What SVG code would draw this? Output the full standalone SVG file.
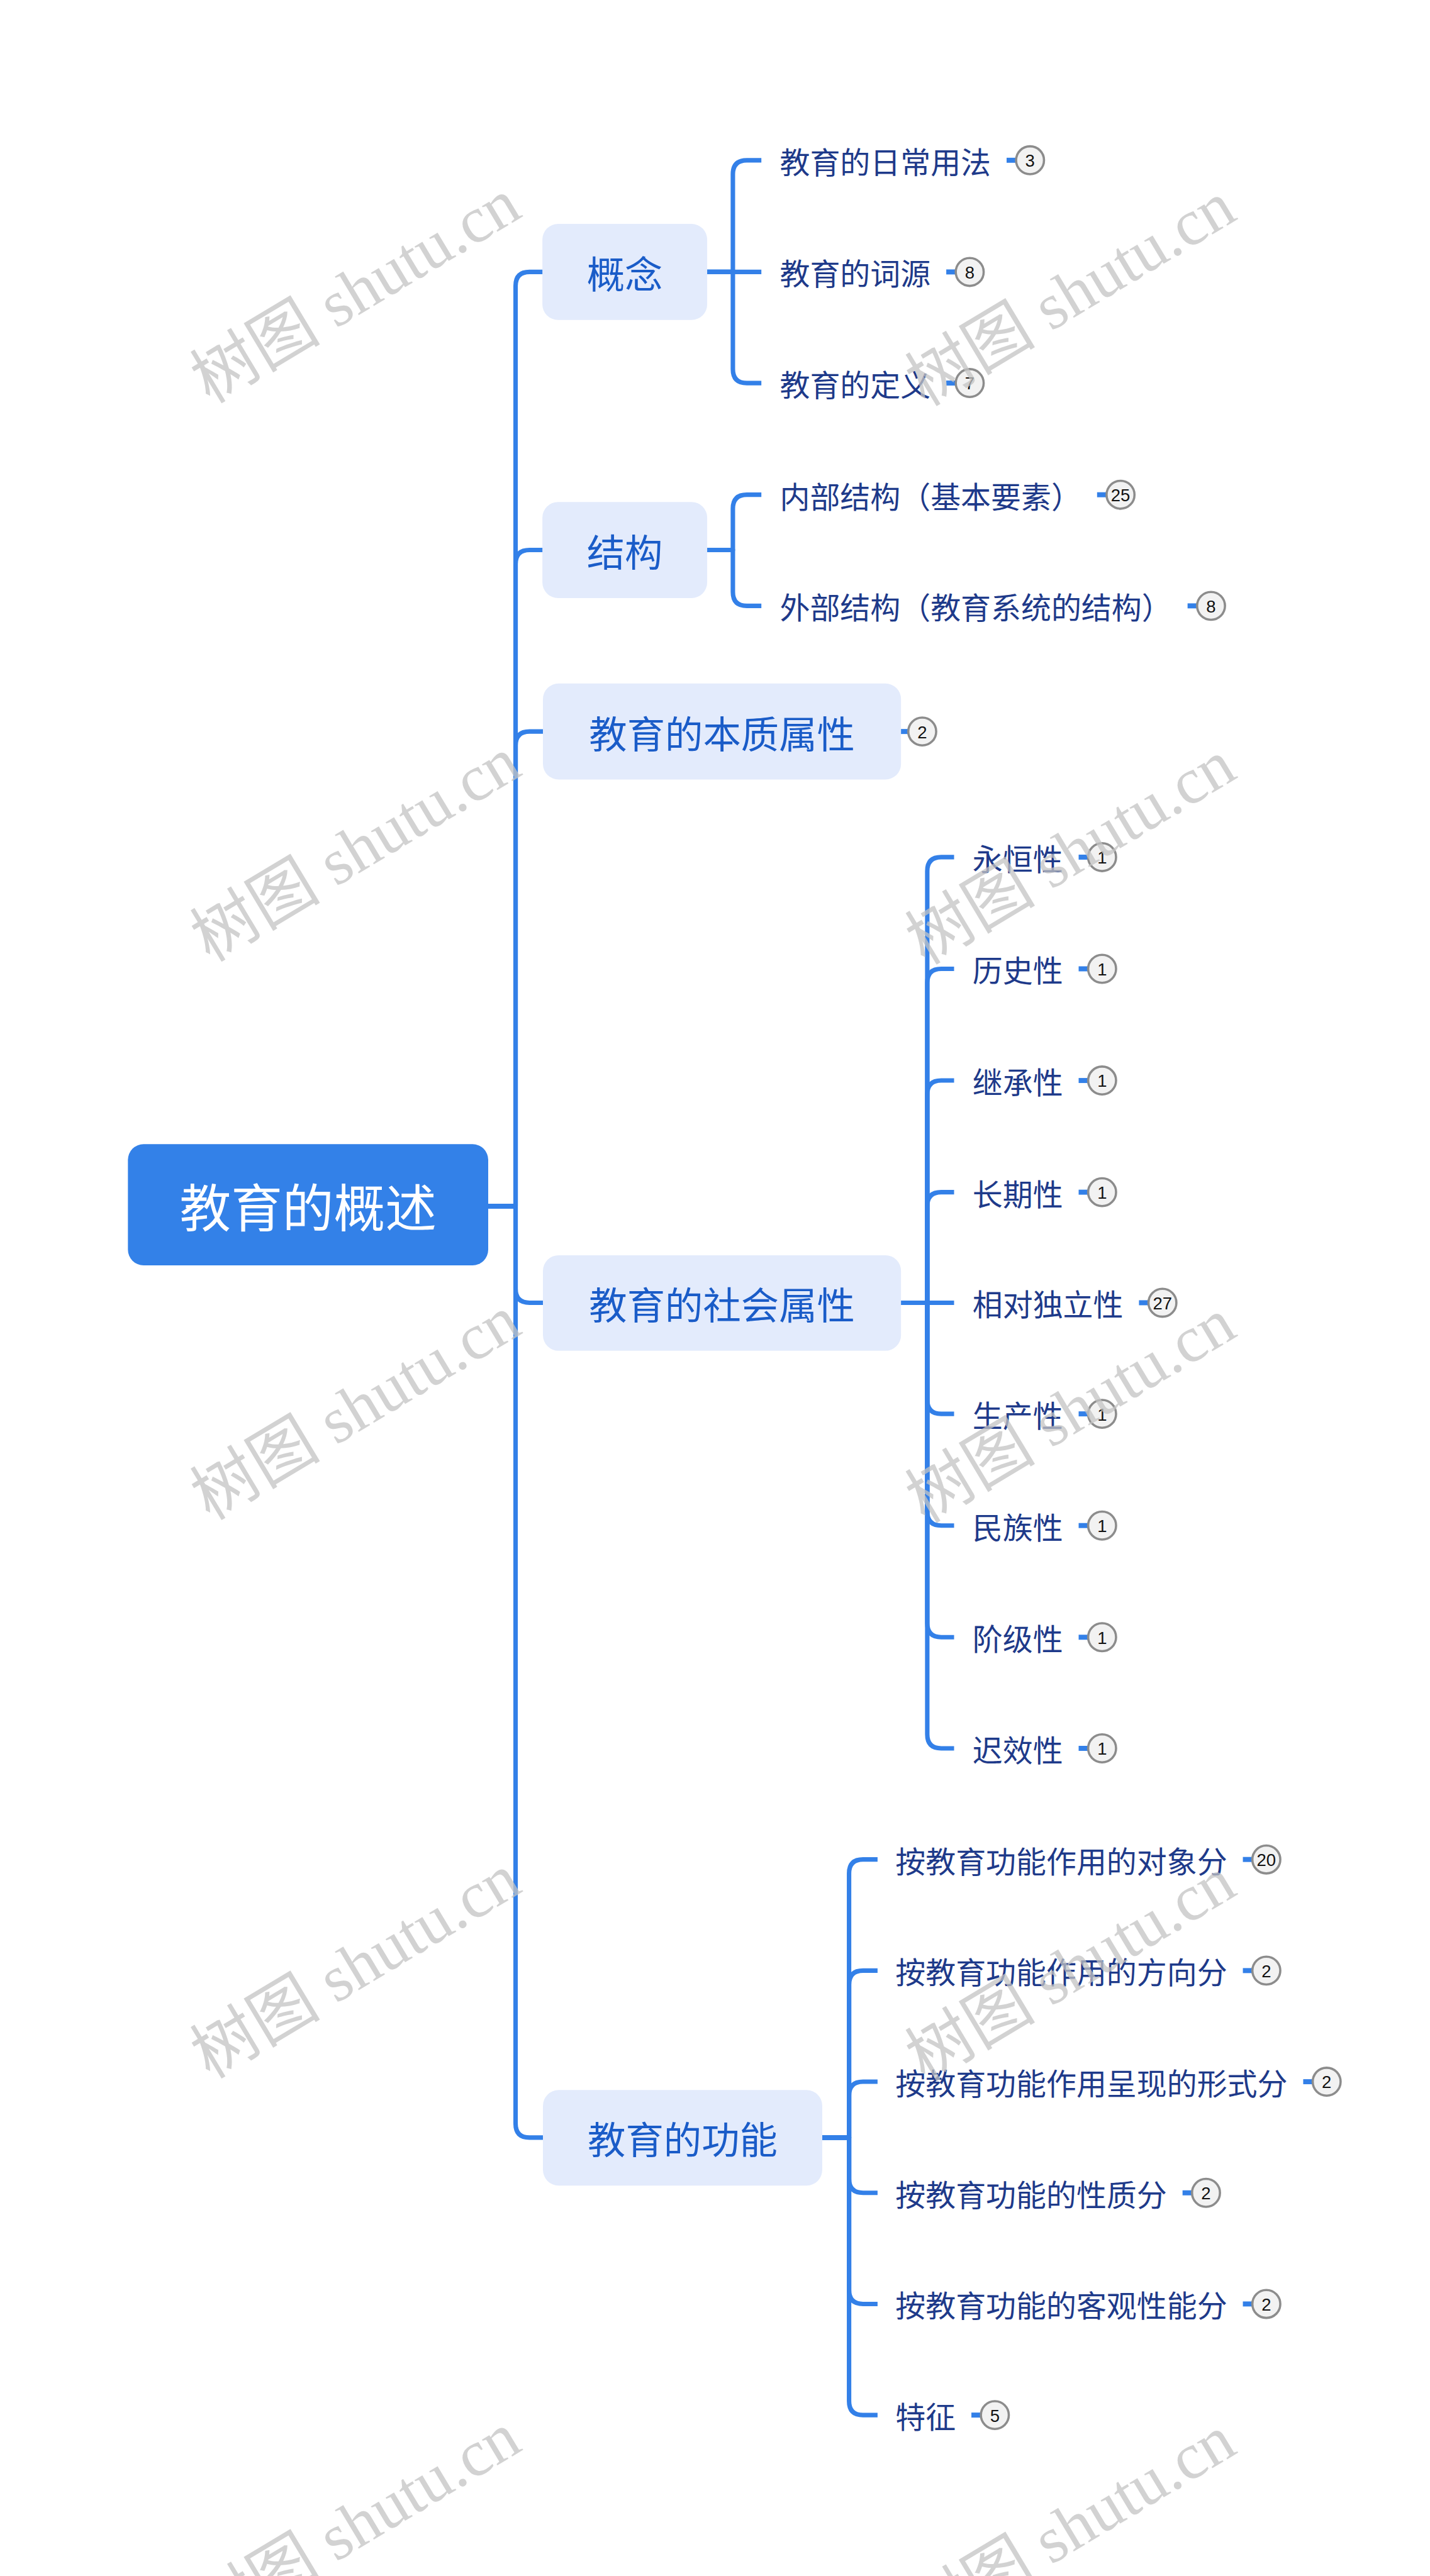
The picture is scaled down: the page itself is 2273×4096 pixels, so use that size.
<svg xmlns="http://www.w3.org/2000/svg" width="2273" height="4096" viewBox="0 0 2273 4096">
<style>
.bg{fill:#ffffff}
.root rect{fill:#3381E8}
.root text{fill:#ffffff;font-size:92px}
.l1 rect{fill:#E3EBFC}
.l1 text{fill:#1A5CC8;font-size:68px}
.leaf text{fill:#1E3A8A;font-size:54px}
text{font-family:"Noto Sans CJK SC","Noto Sans",sans-serif;dominant-baseline:central}
.c{fill:none;stroke:#3380E8;stroke-width:8;stroke-linecap:butt;stroke-linejoin:round}
.dash{stroke:#3380E8;stroke-width:9}
.badge circle{fill:#F2F2F2;stroke:#8C8C8C;stroke-width:4}
.badge text{fill:#111111;font-size:31px;font-family:"Liberation Sans","Noto Sans",sans-serif;text-anchor:middle}
.wm{fill:#c4c4c4;opacity:0.75;font-size:117px;font-family:"Liberation Serif","Noto Sans CJK SC",serif}
</style>
<rect class="bg" x="0" y="0" width="2273" height="4096"/>
<g transform="scale(0.88789)">
<g id="connectors">
<path class="c" d="M874 2160 H923 V512 Q923 487 948 487 H972"/>
<path class="c" d="M874 2160 H923 V1010 Q923 985 948 985 H972"/>
<path class="c" d="M874 2160 H923 V1335 Q923 1310 948 1310 H972"/>
<path class="c" d="M874 2160 H923 V2308 Q923 2333 948 2333 H972"/>
<path class="c" d="M874 2160 H923 V3803 Q923 3828 948 3828 H972"/>
<path class="c" d="M1266 487 H1312 V312 Q1312 287 1337 287 H1363"/>
<path class="c" d="M1266 487 H1363"/>
<path class="c" d="M1266 487 H1312 V661 Q1312 686 1337 686 H1363"/>
<path class="c" d="M1266 985 H1312 V911 Q1312 886 1337 886 H1363"/>
<path class="c" d="M1266 985 H1312 V1060 Q1312 1085 1337 1085 H1363"/>
<path class="c" d="M1613 2333 H1660 V1560 Q1660 1535 1685 1535 H1708"/>
<path class="c" d="M1613 2333 H1660 V1760 Q1660 1735 1685 1735 H1708"/>
<path class="c" d="M1613 2333 H1660 V1960 Q1660 1935 1685 1935 H1708"/>
<path class="c" d="M1613 2333 H1660 V2160 Q1660 2135 1685 2135 H1708"/>
<path class="c" d="M1613 2333 H1708"/>
<path class="c" d="M1613 2333 H1660 V2507 Q1660 2532 1685 2532 H1708"/>
<path class="c" d="M1613 2333 H1660 V2707 Q1660 2732 1685 2732 H1708"/>
<path class="c" d="M1613 2333 H1660 V2907 Q1660 2932 1685 2932 H1708"/>
<path class="c" d="M1613 2333 H1660 V3106 Q1660 3131 1685 3131 H1708"/>
<path class="c" d="M1472 3828 H1520 V3355 Q1520 3330 1545 3330 H1571"/>
<path class="c" d="M1472 3828 H1520 V3554 Q1520 3529 1545 3529 H1571"/>
<path class="c" d="M1472 3828 H1520 V3753 Q1520 3728 1545 3728 H1571"/>
<path class="c" d="M1472 3828 H1520 V3902 Q1520 3927 1545 3927 H1571"/>
<path class="c" d="M1472 3828 H1520 V4101 Q1520 4126 1545 4126 H1571"/>
<path class="c" d="M1472 3828 H1520 V4300 Q1520 4325 1545 4325 H1571"/>
</g>

<g id="root" class="root"><rect x="229" y="2049" width="645" height="217" rx="28"/><text x="551.5" y="2157" text-anchor="middle">教育的概述</text></g>

<g id="n-gainian" class="l1"><rect x="971" y="401" width="295" height="172" rx="28"/><text x="1118.5" y="487" text-anchor="middle">概念</text></g>
<g id="n-jiegou" class="l1"><rect x="971" y="899" width="295" height="172" rx="28"/><text x="1118.5" y="985" text-anchor="middle">结构</text></g>
<g id="n-benzhi" class="l1"><rect x="972" y="1224" width="641" height="172" rx="28"/><text x="1292.5" y="1310" text-anchor="middle">教育的本质属性</text>
<line class="dash" x1="1613" y1="1310" x2="1627" y2="1310"/><g class="badge"><circle cx="1651" cy="1310" r="25"/><text x="1651" y="1311">2</text></g></g>
<g id="n-shehui" class="l1"><rect x="972" y="2248" width="641" height="171" rx="28"/><text x="1292.5" y="2333" text-anchor="middle">教育的社会属性</text></g>
<g id="n-gongneng" class="l1"><rect x="972" y="3743" width="500" height="171" rx="28"/><text x="1222" y="3828" text-anchor="middle">教育的功能</text></g>

<g id="leaf-1" class="leaf"><text x="1396" y="287">教育的日常用法</text><line class="dash" x1="1802" y1="287" x2="1820" y2="287"/><g class="badge"><circle cx="1844" cy="287" r="25"/><text x="1844" y="288">3</text></g></g>
<g id="leaf-2" class="leaf"><text x="1396" y="487">教育的词源</text><line class="dash" x1="1694" y1="487" x2="1712" y2="487"/><g class="badge"><circle cx="1736" cy="487" r="25"/><text x="1736" y="488">8</text></g></g>
<g id="leaf-3" class="leaf"><text x="1396" y="686">教育的定义</text><line class="dash" x1="1694" y1="686" x2="1712" y2="686"/><g class="badge"><circle cx="1736" cy="686" r="25"/><text x="1736" y="687">7</text></g></g>
<g id="leaf-4" class="leaf"><text x="1396" y="886">内部结构（基本要素）</text><line class="dash" x1="1964" y1="886" x2="1982" y2="886"/><g class="badge"><circle cx="2006" cy="886" r="25"/><text x="2006" y="887">25</text></g></g>
<g id="leaf-5" class="leaf"><text x="1396" y="1085">外部结构（教育系统的结构）</text><line class="dash" x1="2126" y1="1085" x2="2144" y2="1085"/><g class="badge"><circle cx="2168" cy="1085" r="25"/><text x="2168" y="1086">8</text></g></g>

<g id="leaf-6" class="leaf"><text x="1741" y="1535">永恒性</text><line class="dash" x1="1931" y1="1535" x2="1949" y2="1535"/><g class="badge"><circle cx="1973" cy="1535" r="25"/><text x="1973" y="1536">1</text></g></g>
<g id="leaf-7" class="leaf"><text x="1741" y="1735">历史性</text><line class="dash" x1="1931" y1="1735" x2="1949" y2="1735"/><g class="badge"><circle cx="1973" cy="1735" r="25"/><text x="1973" y="1736">1</text></g></g>
<g id="leaf-8" class="leaf"><text x="1741" y="1935">继承性</text><line class="dash" x1="1931" y1="1935" x2="1949" y2="1935"/><g class="badge"><circle cx="1973" cy="1935" r="25"/><text x="1973" y="1936">1</text></g></g>
<g id="leaf-9" class="leaf"><text x="1741" y="2135">长期性</text><line class="dash" x1="1931" y1="2135" x2="1949" y2="2135"/><g class="badge"><circle cx="1973" cy="2135" r="25"/><text x="1973" y="2136">1</text></g></g>
<g id="leaf-10" class="leaf"><text x="1741" y="2333">相对独立性</text><line class="dash" x1="2039" y1="2333" x2="2057" y2="2333"/><g class="badge"><circle cx="2081" cy="2333" r="25"/><text x="2081" y="2334">27</text></g></g>
<g id="leaf-11" class="leaf"><text x="1741" y="2532">生产性</text><line class="dash" x1="1931" y1="2532" x2="1949" y2="2532"/><g class="badge"><circle cx="1973" cy="2532" r="25"/><text x="1973" y="2533">1</text></g></g>
<g id="leaf-12" class="leaf"><text x="1741" y="2732">民族性</text><line class="dash" x1="1931" y1="2732" x2="1949" y2="2732"/><g class="badge"><circle cx="1973" cy="2732" r="25"/><text x="1973" y="2733">1</text></g></g>
<g id="leaf-13" class="leaf"><text x="1741" y="2932">阶级性</text><line class="dash" x1="1931" y1="2932" x2="1949" y2="2932"/><g class="badge"><circle cx="1973" cy="2932" r="25"/><text x="1973" y="2933">1</text></g></g>
<g id="leaf-14" class="leaf"><text x="1741" y="3131">迟效性</text><line class="dash" x1="1931" y1="3131" x2="1949" y2="3131"/><g class="badge"><circle cx="1973" cy="3131" r="25"/><text x="1973" y="3132">1</text></g></g>

<g id="leaf-15" class="leaf"><text x="1603" y="3330">按教育功能作用的对象分</text><line class="dash" x1="2225" y1="3330" x2="2243" y2="3330"/><g class="badge"><circle cx="2267" cy="3330" r="25"/><text x="2267" y="3331">20</text></g></g>
<g id="leaf-16" class="leaf"><text x="1603" y="3529">按教育功能作用的方向分</text><line class="dash" x1="2225" y1="3529" x2="2243" y2="3529"/><g class="badge"><circle cx="2267" cy="3529" r="25"/><text x="2267" y="3530">2</text></g></g>
<g id="leaf-17" class="leaf"><text x="1603" y="3728">按教育功能作用呈现的形式分</text><line class="dash" x1="2333" y1="3728" x2="2351" y2="3728"/><g class="badge"><circle cx="2375" cy="3728" r="25"/><text x="2375" y="3729">2</text></g></g>
<g id="leaf-18" class="leaf"><text x="1603" y="3927">按教育功能的性质分</text><line class="dash" x1="2117" y1="3927" x2="2135" y2="3927"/><g class="badge"><circle cx="2159" cy="3927" r="25"/><text x="2159" y="3928">2</text></g></g>
<g id="leaf-19" class="leaf"><text x="1603" y="4126">按教育功能的客观性能分</text><line class="dash" x1="2225" y1="4126" x2="2243" y2="4126"/><g class="badge"><circle cx="2267" cy="4126" r="25"/><text x="2267" y="4127">2</text></g></g>
<g id="leaf-20" class="leaf"><text x="1603" y="4325">特征</text><line class="dash" x1="1739" y1="4325" x2="1757" y2="4325"/><g class="badge"><circle cx="1781" cy="4325" r="25"/><text x="1781" y="4326">5</text></g></g>

<g id="watermarks">
<text class="wm" transform="translate(355 690) rotate(-31)">树图 shutu.cn</text>
<text class="wm" transform="translate(1635 695) rotate(-31)">树图 shutu.cn</text>
<text class="wm" transform="translate(355 1690) rotate(-31)">树图 shutu.cn</text>
<text class="wm" transform="translate(1635 1695) rotate(-31)">树图 shutu.cn</text>
<text class="wm" transform="translate(355 2690) rotate(-31)">树图 shutu.cn</text>
<text class="wm" transform="translate(1635 2695) rotate(-31)">树图 shutu.cn</text>
<text class="wm" transform="translate(355 3690) rotate(-31)">树图 shutu.cn</text>
<text class="wm" transform="translate(1635 3695) rotate(-31)">树图 shutu.cn</text>
<text class="wm" transform="translate(355 4690) rotate(-31)">树图 shutu.cn</text>
<text class="wm" transform="translate(1635 4695) rotate(-31)">树图 shutu.cn</text>
</g>
</g>
</svg>
